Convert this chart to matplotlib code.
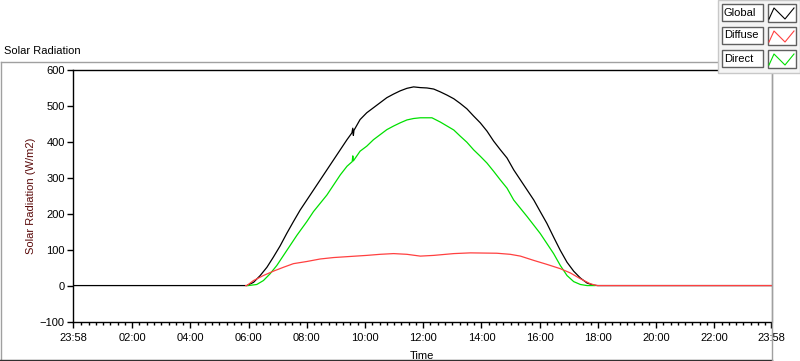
import matplotlib
matplotlib.use("Agg")
import matplotlib.pyplot as plt
from matplotlib.patches import Rectangle
from matplotlib.lines import Line2D

plt.rcParams['font.family'] = ['Liberation Sans', 'DejaVu Sans']

# ---- data (hours since midnight; start/end = 23:58) ----
t_start = -2 / 60
t_end = 24 - 2 / 60

global_t = [t_start, 5.90, 5.94, 6.17, 6.40, 6.63, 6.85, 7.08, 7.31, 7.54, 7.77, 8.00,
            8.23, 8.46, 8.69, 8.92, 9.15, 9.38, 9.55, 9.58, 9.60, 9.62, 9.83, 10.06,
            10.29, 10.52, 10.75, 10.98, 11.21, 11.44, 11.67, 11.90, 12.13, 12.36,
            12.59, 12.82, 13.05, 13.27, 13.50, 13.73, 13.96, 14.19, 14.42, 14.65,
            14.88, 15.11, 15.34, 15.57, 15.80, 16.02, 16.25, 16.48, 16.71, 16.94,
            17.17, 17.40, 17.63, 17.86, 18.00, t_end]
global_v = [0, 0, 0, 9, 28, 51, 79, 110, 145, 178, 210, 238,
            266, 294, 322, 350, 378, 406, 425, 438, 418, 432, 462, 481,
            495, 509, 523, 533, 542, 549, 553, 551, 550, 547,
            539, 530, 520, 507, 492, 472, 453, 430, 402, 378,
            355, 322, 294, 266, 238, 206, 173, 135, 98, 65,
            40, 21, 7, 1, 0, 0]

direct_t = [5.95, 5.99, 6.28, 6.51, 6.74, 6.97, 7.20, 7.43, 7.66, 8.00, 8.23, 8.46,
            8.69, 8.92, 9.15, 9.38, 9.56, 9.58, 9.60, 9.83, 10.06, 10.29, 10.52,
            10.75, 10.98, 11.21, 11.44, 11.67, 11.90, 12.30, 12.59, 12.82, 13.05,
            13.27, 13.50, 13.73, 13.96, 14.19, 14.42, 14.65, 14.88, 15.11, 15.34,
            15.57, 15.80, 16.02, 16.25, 16.48, 16.71, 16.94, 17.17, 17.40, 17.63,
            17.90]
direct_v = [0, 0, 3, 14, 33, 56, 84, 112, 140, 178, 206, 229,
            252, 280, 308, 332, 345, 361, 347, 374, 388, 406, 420,
            434, 444, 453, 461, 465, 467, 467, 455, 444, 433,
            416, 399, 378, 360, 341, 318, 294, 271, 238, 215,
            192, 168, 145, 117, 89, 56, 28, 11, 3, 0,
            0]

diffuse_t = [5.90, 5.94, 6.17, 6.51, 6.85, 7.20, 7.54, 8.00, 8.46, 8.92, 9.49, 10.06,
             10.52, 10.98, 11.44, 11.90, 12.36, 13.05, 13.62, 14.53, 14.99, 15.34,
             15.80, 16.25, 16.71, 17.06, 17.40, 17.74, 17.97, t_end]
diffuse_v = [0, 0, 14, 28, 40, 51, 61, 67, 74, 78, 81, 84,
             87, 89, 87, 82, 84, 89, 91, 90, 87, 82,
             70, 59, 47, 35, 19, 5, 0, 0]

tick_pos = [t_start, 2, 4, 6, 8, 10, 12, 14, 16, 18, 20, 22, t_end]
tick_labels = ['23:58', '02:00', '04:00', '06:00', '08:00', '10:00', '12:00',
               '14:00', '16:00', '18:00', '20:00', '22:00', '23:58']
y_ticks = [-100, 0, 100, 200, 300, 400, 500, 600]

series_names = ['Global', 'Diffuse', 'Direct']
series_colors = ['#000000', '#ff4040', '#00e000']

W, H = 800, 361
fig = plt.figure(figsize=(W / 100, H / 100), dpi=100)
fig.patch.set_facecolor('white')

ax = fig.add_axes([73 / W, (H - 321.5) / H, 698.5 / W, (321.5 - 70) / H])
ax.plot(global_t, global_v, color=series_colors[0], lw=0.9, zorder=3)
ax.plot(direct_t, direct_v, color=series_colors[2], lw=0.9, zorder=4)
ax.plot(diffuse_t, diffuse_v, color=series_colors[1], lw=0.9, zorder=5)

ax.set_xlim(t_start, t_end)
ax.set_ylim(-100, 600)
ax.set_xticks(tick_pos)
ax.set_xticklabels(tick_labels)
minor = [m / 4 for m in range(1, 96) if m % 8 != 0]
ax.set_xticks(minor, minor=True)
ax.set_yticks(y_ticks)
ax.tick_params(axis='both', which='major', direction='out', length=4, width=1,
               labelsize=8, colors='black', pad=2)
ax.tick_params(axis='x', which='major', pad=4)
ax.tick_params(axis='x', which='minor', direction='out', length=2.5, width=1)
ax.tick_params(axis='y', which='minor', left=False)

for s in ['left', 'bottom', 'top']:
    ax.spines[s].set_color('black')
    ax.spines[s].set_linewidth(1.0)
ax.spines['right'].set_color('#a0a0a0')
ax.spines['right'].set_linewidth(1.0)

ax.set_xlabel('Time', fontsize=8, color='black', labelpad=6)
ax.set_ylabel('Solar Radiation (W/m2)', fontsize=8, color='#5a0a0a', labelpad=3)

# title
fig.text(4 / W, 1 - 51 / H, 'Solar Radiation', fontsize=8, ha='left', va='center')

# outer frame
def fline(x0, y0, x1, y1, color, lw=1.0, z=1):
    fig.add_artist(Line2D([x0 / W, x1 / W], [1 - y0 / H, 1 - y1 / H],
                          color=color, lw=lw, zorder=z))

fline(0.5, 61.5, 718, 61.5, '#a0a0a0')
fline(0.5, 61.5, 0.5, 360, '#a0a0a0')
fline(0, 359.5, 772, 359.5, '#303030')
fline(772, 72, 772, 360, '#a0a0a0')

# legend panel
fig.add_artist(Rectangle((717.5 / W, 1 - 72.5 / H), 82.5 / W, 72.5 / H,
                         transform=fig.transFigure, facecolor='#f4f4f4',
                         edgecolor='#c8c8c8', lw=1.0, zorder=10))
rows_y = [4, 27, 50]
for name, col, y0 in zip(series_names, series_colors, rows_y):
    fig.add_artist(Rectangle((721.5 / W, 1 - (y0 + 17) / H), 41 / W, 17 / H,
                             transform=fig.transFigure, facecolor='white',
                             edgecolor='#606060', lw=1.0, zorder=11))
    fig.text(724 / W, 1 - (y0 + 8.5) / H, name, fontsize=8, ha='left',
             va='center', zorder=12)
    fig.add_artist(Rectangle((767.5 / W, 1 - (y0 + 18) / H), 28 / W, 18 / H,
                             transform=fig.transFigure, facecolor='white',
                             edgecolor='#606060', lw=1.0, zorder=11))
    zx = [769, 774, 785, 794]
    zy = [y0 + 15, y0 + 4, y0 + 15, y0 + 4]
    fig.add_artist(Line2D([x / W for x in zx], [1 - y / H for y in zy],
                          color=col, lw=0.8, zorder=12))

fig.savefig('out.png', dpi=100)
